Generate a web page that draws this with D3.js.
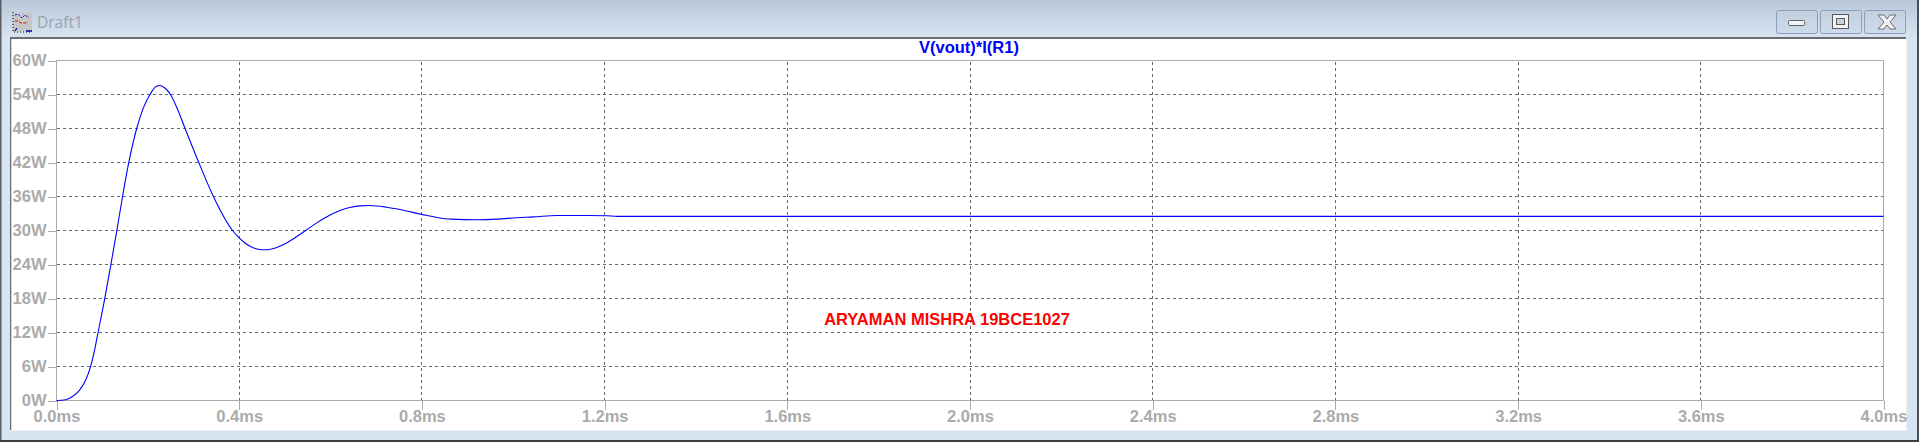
<!DOCTYPE html>
<html>
<head>
<meta charset="utf-8">
<script src="https://cdnjs.cloudflare.com/ajax/libs/d3/7.8.5/d3.min.js"></script>
<style>
html,body{margin:0;padding:0;background:#fff;overflow:hidden}
svg{display:block}
text{font-family:"Liberation Sans",Arial,sans-serif}
</style>
</head>
<body>
<svg id="c" width="1919" height="442"></svg>
<script>
const chartTitle = "V(vout)*I(R1)";
const annotation = "ARYAMAN MISHRA 19BCE1027";
const windowTitle = "Draft1";
const xTickValues = [0,0.4,0.8,1.2,1.6,2.0,2.4,2.8,3.2,3.6,4.0];
const yTickValues = [0,6,12,18,24,30,36,42,48,54,60];
const timeMs = [0,0.02,0.035,0.05,0.0627,0.0736,0.081,0.0893,0.1045,0.118,0.131,0.1438,0.1575,0.1756,0.19,0.2047,0.218,0.2266,0.238,0.2495,0.265,0.2815,0.3115,0.3435,0.3855,0.4,0.4125,0.427,0.4416,0.456,0.471,0.485,0.5035,0.518,0.5326,0.547,0.569,0.587,0.6055,0.6237,0.642,0.664,0.685,0.7233,0.752,0.8,0.833,0.864,0.92,0.964,1.008,1.044,1.096,1.161,1.205,1.227,1.5,2.0,3.0,4.0];
const powerW = [0,0.12,0.7,1.8,3.4,5.7,8,11.3,17.5,23.5,29.5,35.6,41.7,48,51.6,54,55.4,55.6,55.1,54,51.4,48,42,36,30,28.7,27.8,27.1,26.7,26.6,26.75,27.1,27.8,28.5,29.3,30.1,31.3,32.2,33,33.6,34.05,34.35,34.4,34.1,33.7,32.85,32.3,32,31.9,32,32.26,32.4,32.66,32.66,32.6,32.5,32.5,32.5,32.5,32.5];

const svg = d3.select("#c");
const defs = svg.append("defs");
const grad = defs.append("linearGradient").attr("id","tb").attr("x1",0).attr("y1",0).attr("x2",0).attr("y2",1);
grad.append("stop").attr("offset",0).attr("stop-color","#b9c8d8");
grad.append("stop").attr("offset",1).attr("stop-color","#d7e4f2");
const btn = defs.append("linearGradient").attr("id","bb").attr("x1",0).attr("y1",0).attr("x2",0).attr("y2",1);
btn.append("stop").attr("offset",0).attr("stop-color","#c3d0de");
btn.append("stop").attr("offset",1).attr("stop-color","#ccdbea");

// window frame
svg.append("rect").attr("width",1919).attr("height",442).attr("fill","#d7e4f2");
svg.append("rect").attr("width",1919).attr("height",38).attr("fill","url(#tb)");
svg.append("rect").attr("x",0).attr("y",0).attr("width",1.5).attr("height",442).attr("fill","#5a5f66");
svg.append("rect").attr("x",1917).attr("y",0).attr("width",2).attr("height",442).attr("fill","#4a4f55");
svg.append("rect").attr("x",0).attr("y",440).attr("width",1919).attr("height",2).attr("fill","#3c3f44");
svg.append("rect").attr("x",10).attr("y",37).attr("width",1897).attr("height",394).attr("fill","#eef1f4");
svg.append("rect").attr("x",10).attr("y",37).attr("width",1896).attr("height",2).attr("fill","#6a6d72");
svg.append("rect").attr("x",10).attr("y",37).attr("width",1.5).attr("height",393).attr("fill","#6a6d72");
svg.append("rect").attr("x",11.5).attr("y",39).attr("width",1894.5).attr("height",391).attr("fill","#fff");

// title bar icon
const icon = svg.append("g");
icon.append("rect").attr("x",13).attr("y",13).attr("width",19).attr("height",18).attr("fill","#c6c6c6");
icon.append("path").attr("d","M13 12V32H32").attr("fill","none").attr("stroke","#000").attr("stroke-dasharray","1 2");
icon.append("path").attr("d","M15 15l3 -1l4 4l3 -3l4 3").attr("fill","none").attr("stroke","#0000d8").attr("stroke-dasharray","2 1.5");
icon.append("path").attr("d","M15 21h3l3 2h4l3 -1").attr("fill","none").attr("stroke","#e00000").attr("stroke-dasharray","3 1.5");
icon.append("path").attr("d","M15 31l2 -3M26 31h6").attr("fill","none").attr("stroke","#0000a0").attr("stroke-width",1.3);
svg.append("text").attr("x",37).attr("y",28).attr("font-size",15.5).style("font-family","'Open Sans',sans-serif").attr("fill","#9aa3ad").text(windowTitle);

// window buttons
[1776,1820,1864].forEach(x => {
  svg.append("rect").attr("x",x+.5).attr("y",10.5).attr("width",41).attr("height",23).attr("rx",2).attr("fill","url(#bb)").attr("stroke","#8c9fb8");
});
svg.append("rect").attr("x",1788.5).attr("y",20.5).attr("width",16).attr("height",5).attr("rx",1).attr("fill","#f4f4f4").attr("stroke","#5e6168");
svg.append("rect").attr("x",1832.5).attr("y",14.5).attr("width",16).attr("height",14).attr("fill","#f2f2f2").attr("stroke","#55585e");
svg.append("rect").attr("x",1836.5).attr("y",18.5).attr("width",8).attr("height",6).attr("fill","#c6d3e1").attr("stroke","#55585e");
svg.append("path").attr("d","M1878 15h6l3 4l3 -4h6l-6 7l6 7h-6l-3 -4l-3 4h-6l6 -7z").attr("fill","#f2f2f2").attr("stroke","#6a6d72");

// scales
const x = d3.scaleLinear().domain([0,4]).range([56.5,1883.5]);
const y = d3.scaleLinear().domain([0,60]).range([400.5,60.5]);
const axisColor = "#ababab", gridColor = "#666";

// grid
const grid = svg.append("g").attr("fill","none").attr("stroke",gridColor).attr("stroke-dasharray","3 3").attr("shape-rendering","crispEdges");
grid.selectAll(".gy").data(yTickValues.slice(1,-1)).join("line").attr("x1",x(0)).attr("x2",x(4)).attr("y1",d=>y(d)).attr("y2",d=>y(d));
grid.selectAll(".gx").data(xTickValues.slice(1,-1)).join("line").attr("y1",y(0)).attr("y2",y(60)).attr("x1",d=>x(d)).attr("x2",d=>x(d));

// frame
svg.append("rect").attr("x",x(0)).attr("y",y(60)).attr("width",x(4)-x(0)).attr("height",y(0)-y(60)).attr("fill","none").attr("stroke",axisColor).attr("shape-rendering","crispEdges");

// axes
const styleAxis = g => {
  g.select(".domain").remove();
  g.selectAll("line").attr("stroke",axisColor).attr("shape-rendering","crispEdges");
  g.selectAll("text").attr("fill",axisColor).attr("font-size",16.5).attr("font-weight","bold").style("font-family","'Liberation Sans',Arial,sans-serif");
};
svg.append("g").attr("transform",`translate(0,${y(0)})`)
  .call(d3.axisBottom(x).tickValues(xTickValues).tickSize(9).tickPadding(1).tickFormat(d=>d.toFixed(1)+"ms"))
  .call(styleAxis);
svg.append("g").attr("transform",`translate(${x(0)},0)`)
  .call(d3.axisLeft(y).tickValues(yTickValues).tickSize(9).tickPadding(1).tickFormat(d=>d+"W"))
  .call(styleAxis);

// series
const line = d3.line().x((d,i)=>x(timeMs[i])).y(d=>y(d)).curve(d3.curveMonotoneX);
svg.append("path").datum(powerW).attr("d",line).attr("fill","none").attr("stroke","#0000ff").attr("stroke-width",1.1);

// labels
svg.append("text").attr("x",969).attr("y",53).attr("text-anchor","middle").attr("font-size",16.5).attr("font-weight","bold").attr("fill","#0000ff").text(chartTitle);
svg.append("text").attr("x",947).attr("y",324.5).attr("text-anchor","middle").attr("font-size",16.5).attr("font-weight","bold").attr("fill","#ff0000").text(annotation);
</script>
</body>
</html>
